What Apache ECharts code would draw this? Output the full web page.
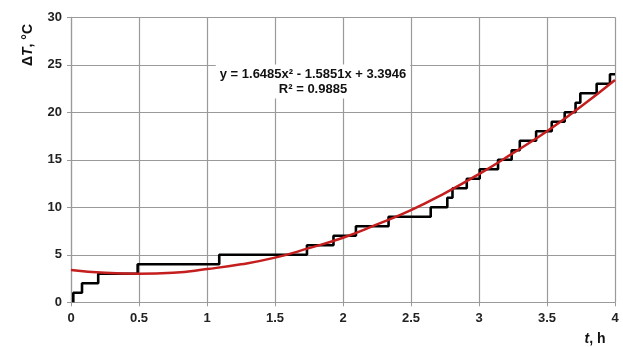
<!DOCTYPE html>
<html>
<head>
<meta charset="utf-8">
<script src="https://cdn.jsdelivr.net/npm/echarts@6/dist/echarts.min.js"></script>
<style>html,body{margin:0;padding:0;background:#fff}#c{width:623px;height:347px}</style>
</head>
<body>
<div id="c"></div>
<script>
// Measured step series (time in h, temperature rise in °C)
var stepTimes  = [0.017, 0.017, 0.081, 0.20, 0.49, 1.09, 1.735, 1.93, 2.095, 2.335, 2.645, 2.767, 2.805, 2.91, 3.005, 3.14, 3.24, 3.30, 3.42, 3.535, 3.63, 3.71, 3.745, 3.865, 3.963, 4.0];
var stepValues = [0, 1, 2, 3, 4, 5, 6, 7, 8, 9, 10, 11, 12, 13, 14, 15, 16, 17, 18, 19, 20, 21, 22, 23, 24, 24];
// Trend curve
var trendTimes  = [0, 0.25, 0.5, 0.75, 1.0, 1.25, 1.5, 1.75, 2.0, 2.25, 2.5, 2.75, 3.0, 3.25, 3.5, 3.75, 4.0];
var trendValues = [3.4, 3.1, 3.0, 3.1, 3.5, 4.0, 4.7, 5.7, 6.8, 8.2, 9.7, 11.5, 13.5, 15.7, 18.0, 20.6, 23.4];
var equationLines = ['y = 1.6485x² - 1.5851x + 3.3946', 'R² = 0.9885'];

var chart = echarts.init(document.getElementById('c'));
var font = '"Liberation Sans", Arial, sans-serif';
var gridColor = '#9a9a9a';
chart.setOption({
  animation: false,
  backgroundColor: '#fff',
  grid: {left: 71, right: 8, top: 17.3, bottom: 44.7},
  xAxis: {
    type: 'value', min: 0, max: 4, interval: 0.5,
    axisLine: {show: true, lineStyle: {color: gridColor, width: 1.2}},
    axisTick: {show: true, length: 4, lineStyle: {color: gridColor}},
    splitLine: {show: true, lineStyle: {color: gridColor, width: 1.2}},
    axisLabel: {color: '#222', fontFamily: font, fontWeight: 'bold', fontSize: 13, margin: 10}
  },
  yAxis: {
    type: 'value', min: 0, max: 30, interval: 5,
    axisLine: {show: true, lineStyle: {color: gridColor, width: 1.2}},
    axisTick: {show: true, length: 4, lineStyle: {color: gridColor}},
    splitLine: {show: true, lineStyle: {color: gridColor, width: 1.2}},
    axisLabel: {color: '#222', fontFamily: font, fontWeight: 'bold', fontSize: 13, margin: 9}
  },
  series: [
    {
      type: 'line', step: 'end', symbol: 'none',
      data: stepTimes.map(function (t, i) { return [t, stepValues[i]]; }),
      lineStyle: {color: '#000', width: 2.6},
      z: 2
    },
    {
      type: 'line', smooth: true, symbol: 'none',
      data: trendTimes.map(function (t, i) { return [t, trendValues[i]]; }),
      lineStyle: {color: '#c41e1e', width: 2.5},
      z: 3
    }
  ],
  graphic: [
    {
      type: 'text', x: 313, y: 81.5, z: 10,
      style: {
        text: equationLines.join('\n'),
        align: 'center', verticalAlign: 'middle',
        font: 'bold 13px ' + font,
        lineHeight: 15,
        fill: '#111',
        backgroundColor: '#fff',
        padding: [2, 4, 2, 4]
      }
    },
    {
      type: 'text', x: 28, y: 45, rotation: Math.PI / 2, z: 10,
      style: {
        text: '{a|Δ}{i|T}{a|, °C}',
        align: 'center', verticalAlign: 'middle',
        rich: {
          a: {font: 'bold 14px ' + font, fill: '#111'},
          i: {font: 'italic bold 14px ' + font, fill: '#111'}
        }
      }
    },
    {
      type: 'text', x: 595, y: 339, z: 10,
      style: {
        text: '{i|t}{a|, h}',
        align: 'center', verticalAlign: 'middle',
        rich: {
          a: {font: 'bold 14px ' + font, fill: '#111'},
          i: {font: 'italic bold 14px ' + font, fill: '#111'}
        }
      }
    }
  ]
});
</script>
</body>
</html>
